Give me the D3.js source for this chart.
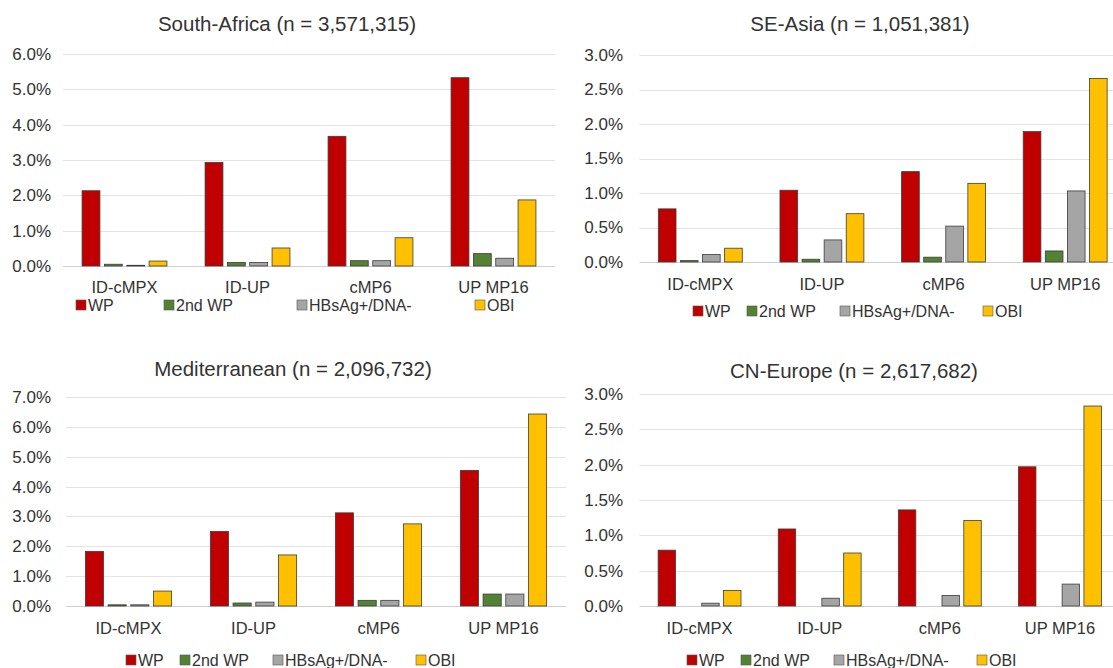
<!DOCTYPE html>
<html>
<head>
<meta charset="utf-8">
<script src="https://cdn.jsdelivr.net/npm/d3@7"></script>
<style>
  body { margin: 0; background: #fff; }
  text { font-family: "Liberation Sans", Arial, sans-serif; fill: #333; }
</style>
</head>
<body>
<script>
// categories and series
var categories = ["ID-cMPX", "ID-UP", "cMP6", "UP MP16"];
var series = ["WP", "2nd WP", "HBsAg+/DNA-", "OBI"];
var colors = ["#c00000", "#548235", "#a5a5a5", "#ffc000"];

// values in percent, one row per series (WP, 2nd WP, HBsAg+/DNA-, OBI)
var southAfrica = [
  [2.13, 2.93, 3.67, 5.33],
  [0.05, 0.10, 0.15, 0.35],
  [0.02, 0.10, 0.15, 0.22],
  [0.14, 0.51, 0.80, 1.87]
];
var seAsia = [
  [0.77, 1.04, 1.31, 1.89],
  [0.02, 0.04, 0.07, 0.16],
  [0.11, 0.32, 0.52, 1.03],
  [0.20, 0.70, 1.14, 2.66]
];
var mediterranean = [
  [1.83, 2.50, 3.12, 4.54],
  [0.04, 0.10, 0.19, 0.40],
  [0.04, 0.13, 0.19, 0.40],
  [0.50, 1.71, 2.75, 6.43]
];
var cnEurope = [
  [0.79, 1.09, 1.36, 1.97],
  [0, 0, 0, 0],
  [0.04, 0.11, 0.15, 0.31],
  [0.22, 0.75, 1.21, 2.83]
];

var titles = ["South-Africa (n = 3,571,315)", "SE-Asia (n = 1,051,381)",
              "Mediterranean (n = 2,096,732)", "CN-Europe (n = 2,617,682)"];
var yMax = [6, 3, 7, 3];
var yStep = [1, 0.5, 1, 0.5];

// layout of each panel
var panels = [
  {data: southAfrica, x0: 63, x1: 555, top: 54, zero: 266, labR: 51, titleX: 287, titleY: 31, catY: 287, legY: 305, legX: [76, 164, 297, 475]},
  {data: seAsia, x0: 639.5, x1: 1126, top: 55, zero: 262, labR: 623, titleX: 860, titleY: 31, catY: 284, legY: 311, legX: [693, 747, 840, 983]},
  {data: mediterranean, x0: 66, x1: 566, top: 397, zero: 606, labR: 51, titleX: 293, titleY: 376, catY: 628, legY: 660, legX: [126, 180, 273, 416]},
  {data: cnEurope, x0: 639.5, x1: 1120, top: 394, zero: 606, labR: 623, titleX: 854, titleY: 378, catY: 628, legY: 660, legX: [687, 741, 834, 977]}
];

var svg = d3.select("body").append("svg")
  .attr("width", 1113)
  .attr("height", 668);

panels.forEach(function(p, i) {
  var g = svg.append("g");

  var y = d3.scaleLinear().domain([0, yMax[i]]).range([p.zero, p.top]);
  var xc = d3.scaleBand().domain(categories).range([p.x0, p.x1])
    .paddingInner(0.31).paddingOuter(0.155);
  var xs = d3.scaleBand().domain(series).range([0, xc.bandwidth()]).paddingInner(0.2);

  var ticks = d3.range(0, yMax[i] + yStep[i] / 2, yStep[i]);

  // gridlines
  g.selectAll(".grid").data(ticks).enter().append("line")
    .attr("x1", p.x0).attr("x2", p.x1)
    .attr("y1", function(d) { return Math.round(y(d)) + 0.5; })
    .attr("y2", function(d) { return Math.round(y(d)) + 0.5; })
    .attr("stroke", function(d) { return d == 0 ? "#d0d0d0" : "#e4e4e4"; })
    .attr("stroke-width", 1);

  // y axis labels
  var yAxis = d3.axisLeft(y).tickValues(ticks)
    .tickFormat(function(d) { return d.toFixed(1) + "%"; })
    .tickSize(0).tickPadding(p.x0 - p.labR);
  var ya = g.append("g").attr("transform", "translate(" + p.x0 + ",0)").call(yAxis);
  ya.select(".domain").remove();
  ya.selectAll("text").style("font-size", "17px").attr("fill", "#333")
    .style("font-family", "'Liberation Sans', Arial, sans-serif");

  // bars
  var rows = [];
  series.forEach(function(s, si) {
    categories.forEach(function(c, ci) {
      rows.push({s: s, si: si, c: c, v: p.data[si][ci]});
    });
  });
  g.selectAll(".bar").data(rows.filter(function(r) { return r.v > 0; }))
    .enter().append("rect")
    .attr("x", function(d) { return xc(d.c) + xs(d.s); })
    .attr("width", xs.bandwidth())
    .attr("y", function(d) { return y(d.v); })
    .attr("height", function(d) { return y(0) - y(d.v); })
    .attr("fill", function(d) { return colors[d.si]; })
    .attr("stroke", "#3c3c3c")
    .attr("stroke-width", 0.8);

  // category labels
  var xAxis = d3.axisBottom(xc).tickSize(0).tickPadding(0);
  var xa = g.append("g").attr("transform", "translate(0," + p.catY + ")").call(xAxis);
  xa.select(".domain").remove();
  xa.selectAll("text").attr("dy", "0.35em").attr("y", 0)
    .style("font-size", "16.5px").attr("fill", "#333")
    .style("font-family", "'Liberation Sans', Arial, sans-serif");

  // title
  g.append("text")
    .attr("x", p.titleX).attr("y", p.titleY)
    .attr("text-anchor", "middle")
    .style("font-size", "20.5px")
    .text(titles[i]);

  // legend
  series.forEach(function(s, si) {
    g.append("rect")
      .attr("x", p.legX[si]).attr("y", p.legY - 5)
      .attr("width", 10).attr("height", 10)
      .attr("fill", colors[si])
      .attr("stroke", "#555").attr("stroke-width", 0.6);
    g.append("text")
      .attr("x", p.legX[si] + 12).attr("y", p.legY)
      .attr("dy", "0.35em")
      .style("font-size", "16px")
      .text(s);
  });
});
</script>
</body>
</html>
